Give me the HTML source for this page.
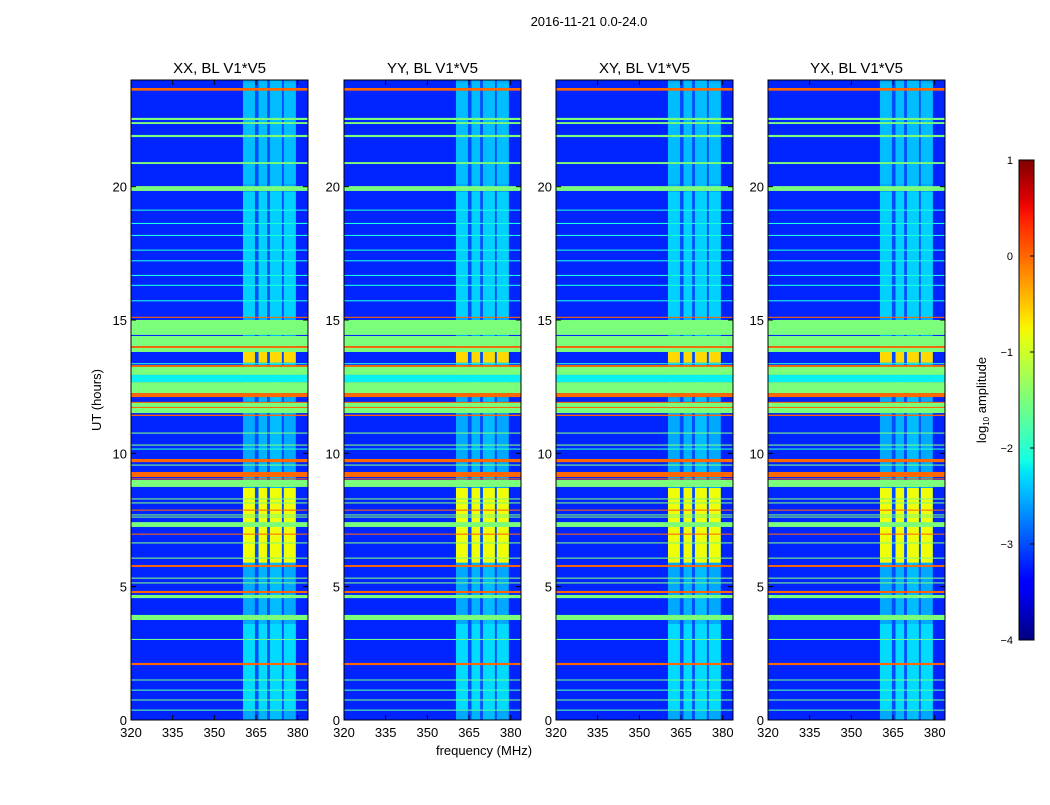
<!DOCTYPE html>
<html><head><meta charset="utf-8"><style>
html,body{margin:0;padding:0;background:#fff;}
svg text{font-family:"Liberation Sans",sans-serif;fill:#000;}
</style></head><body>
<svg id="fig" width="1050" height="800" viewBox="0 0 1050 800" xmlns="http://www.w3.org/2000/svg">
<text x="589" y="26" font-size="13" text-anchor="middle">2016-11-21 0.0-24.0</text>
<text x="484" y="755" font-size="13" text-anchor="middle">frequency (MHz)</text>
<text x="101" y="400" font-size="13" text-anchor="middle" transform="rotate(-90 101 400)">UT (hours)</text>
<g id="panels"></g>
<g id="cbar"></g>
</svg>
<script>
// ---- data ----
const panelTitles = ["XX, BL V1*V5","YY, BL V1*V5","XY, BL V1*V5","YX, BL V1*V5"];
const xTicks = [320,335,350,365,380];
const yTicks = [0,5,10,15,20];
const cbTicks = [1,0,-1,-2,-3,-4];
const backgroundLevel = -3.2;
// RFI frequency sub-bands [fStart, fEnd, log amp]
const rfiBands = [[360.3,364.6,-2.55],[364.6,365.9,-3.0],[365.9,369.0,-2.5],[369.0,370.0,-3.0],[370.0,374.3,-2.45],[374.3,375.0,-3.0],[375.0,379.3,-2.55]];
// time ranges where lit sub-bands brighten [hStart, hEnd, log amp]
const bandBoosts = [[13.4,13.8,-0.6],[5.9,8.7,-0.8],[8.74,9.0,-0.7],[0.4,3.6,-2.3],[15.1,19.8,-2.35],[20.1,23.9,-2.45]];
// horizontal RFI lines [hStart, hEnd, log amp]
const hLines = [
[23.6,23.7,0],[22.5,22.58,-1.5],[22.35,22.42,-1.5],[21.86,21.94,-1.5],[20.85,20.92,-1.5],[19.84,20.02,-1.5],
[19.1,19.14,-2.1],[18.6,18.64,-2.1],[18.15,18.19,-2.1],[17.6,17.64,-2.1],[17.2,17.24,-2.1],[16.65,16.69,-2.1],[16.28,16.32,-2.1],[15.7,15.74,-2.1],
[15.08,15.12,0],[14.44,15.0,-1.5],[14.02,14.4,-1.5],[13.95,14.02,0],[13.8,13.95,-1.5],[13.35,13.38,-2.0],
[13.24,13.31,0],[12.94,13.24,-1.5],[12.67,12.94,-2.2],[12.26,12.67,-1.5],[12.11,12.26,0],[11.89,11.93,0],
[11.74,11.89,-1.5],[11.7,11.74,0],[11.51,11.7,-1.5],[11.4,11.45,0],[10.74,10.78,-1.5],[10.29,10.33,-1.5],
[10.14,10.18,-2.0],[9.67,9.79,0],[9.54,9.58,-1.5],[9.11,9.3,0],[9.02,9.06,0],[8.74,9.0,-1.5],
[8.27,8.31,-1.5],[8.12,8.16,-1.5],[7.85,7.89,0],[7.67,7.71,-1.5],[7.59,7.63,-1.5],[7.24,7.42,-1.5],
[6.95,6.99,0],[6.62,6.66,-1.5],[6.05,6.09,-1.5],[5.74,5.81,0],[5.3,5.34,-1.5],[5.12,5.16,-1.5],
[4.76,4.84,0],[4.57,4.69,-1.5],[3.75,3.94,-1.5],[3.0,3.04,-1.6],[2.06,2.14,0],[1.48,1.52,-1.6],[1.1,1.14,-1.8],[0.73,0.77,-1.6],[0.35,0.39,-1.7]
];
// ---- layout ----
const panelLefts=[131,344,556,768], pw=177, plotTop=80, plotBottom=720;
const fMin=320, fMax=383.7, hMin=0, hMax=24;
const NS="http://www.w3.org/2000/svg";
function interp(pts,t){for(let i=1;i<pts.length;i++){if(t<=pts[i][0]){const a=pts[i-1],b=pts[i];return a[1]+(b[1]-a[1])*(t-a[0])/(b[0]-a[0]);}}return pts[pts.length-1][1];}
const JR=[[0,0],[0.35,0],[0.66,1],[0.89,1],[1,0.5]];
const JG=[[0,0],[0.125,0],[0.375,1],[0.64,1],[0.91,0],[1,0]];
const JB=[[0,0.5],[0.11,1],[0.34,1],[0.65,0],[1,0]];
function jet(v){const t=Math.max(0,Math.min(1,(v+4)/5));const c=p=>Math.round(255*interp(p,t));return `rgb(${c(JR)},${c(JG)},${c(JB)})`;}
function mk(tag,attrs,parent){const e=document.createElementNS(NS,tag);for(const k in attrs)e.setAttribute(k,attrs[k]);parent.appendChild(e);return e;}
function yOf(h){return plotBottom-(h-hMin)/(hMax-hMin)*(plotBottom-plotTop);}
const gp=document.getElementById('panels');
panelLefts.forEach((L,pi)=>{
  const xOf=f=>L+(f-fMin)/(fMax-fMin)*pw;
  const g=mk('g',{},gp);
  
  
  const bg=mk('rect',{x:L,y:plotTop,width:pw,height:plotBottom-plotTop,fill:jet(backgroundLevel)},g);
  
  
  rfiBands.forEach(b=>{
    const r=mk('rect',{x:xOf(b[0]),y:plotTop,width:xOf(b[1])-xOf(b[0]),height:plotBottom-plotTop,fill:jet(b[2])},g);
    
    
  });
  bandBoosts.forEach(bb=>{
    rfiBands.forEach(b=>{
      if(b[2]<-2.8) return;
      const r=mk('rect',{x:xOf(b[0]),y:yOf(bb[1]),width:xOf(b[1])-xOf(b[0]),height:yOf(bb[0])-yOf(bb[1]),fill:jet(bb[2])},g);
      
      
    });
  });
  hLines.forEach(l=>{
    const hgt=Math.max(1,yOf(l[0])-yOf(l[1]));
    const r=mk('rect',{x:L,y:yOf(l[1]),width:pw,height:hgt,fill:jet(l[2])},g);
    
    
  });
  const fr=mk('rect',{x:L,y:plotTop,width:pw,height:plotBottom-plotTop,fill:'none',stroke:'#000','stroke-width':1},g);
  
  
  const t=mk('text',{x:L+pw/2,y:plotTop-7,'font-size':15,'text-anchor':'middle'},g);
  t.textContent=panelTitles[pi];
  
  
  xTicks.forEach(f=>{
    const x=xOf(f);
    mk('line',{x1:x,x2:x,y1:plotBottom,y2:plotBottom-5,stroke:'#000'},g);
    mk('line',{x1:x,x2:x,y1:plotTop,y2:plotTop+5,stroke:'#000'},g);
    const tx=mk('text',{x:x,y:plotBottom+17,'font-size':13,'text-anchor':'middle'},g);
    tx.textContent=f;
    
    
  });
  yTicks.forEach(h=>{
    const y=yOf(h);
    mk('line',{x1:L,x2:L+5,y1:y,y2:y,stroke:'#000'},g);
    mk('line',{x1:L+pw,x2:L+pw-5,y1:y,y2:y,stroke:'#000'},g);
    const ty=mk('text',{x:L-4,y:y+5,'font-size':13,'text-anchor':'end'},g);
    ty.textContent=h;
    
    
  });
});
// colorbar
const cb=document.getElementById('cbar');
const cx=1019,cw=15,ct=160,cbt=640;
const defs=mk('defs',{},cb);
const lg=mk('linearGradient',{id:'jetg',x1:0,y1:1,x2:0,y2:0},defs);
for(let i=0;i<=40;i++){mk('stop',{offset:i/40,'stop-color':jet(-4+5*i/40)},lg);}
mk('rect',{x:cx,y:ct,width:cw,height:cbt-ct,fill:'url(#jetg)',stroke:'#000'},cb);
cbTicks.forEach(v=>{
  const y=cbt-(v+4)/5*(cbt-ct);
  mk('line',{x1:cx+cw-4,x2:cx+cw,y1:y,y2:y,stroke:'#000'},cb);
  const t=mk('text',{x:cx-6,y:y+4,'font-size':11,'text-anchor':'end'},cb);
  t.textContent=v<0?'\u2212'+Math.abs(v):String(v);
  
  
});
const cl=mk('text',{x:986,y:400,'font-size':13,'text-anchor':'middle',transform:'rotate(-90 986 400)'},cb);
cl.innerHTML='log<tspan font-size="8" dy="3">10</tspan><tspan dy="-3"> amplitude</tspan>';


</script>
</body></html>
